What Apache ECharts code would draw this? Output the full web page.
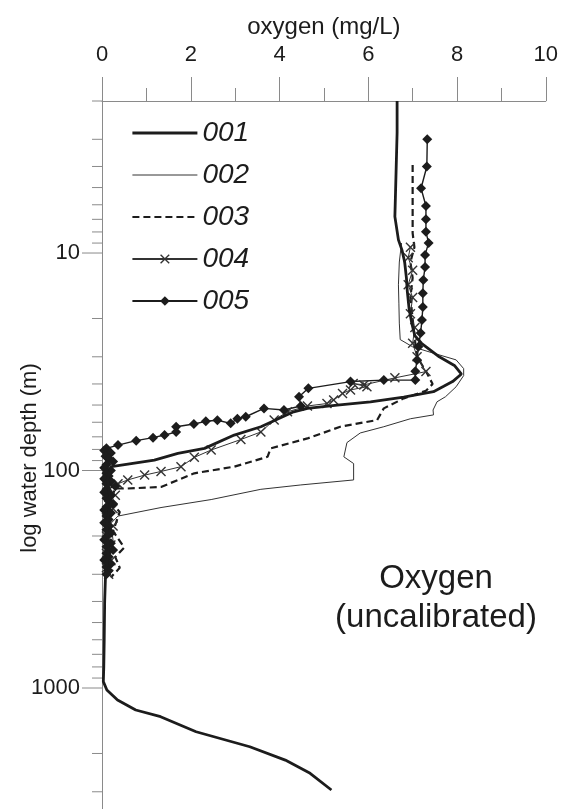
<!DOCTYPE html>
<html>
<head>
<meta charset="utf-8">
<script src="https://cdn.jsdelivr.net/npm/echarts@6/dist/echarts.min.js"></script>
<style>
html,body{margin:0;padding:0;background:#fff;}
#chart{width:561px;height:809px;}
</style>
</head>
<body>
<div id="chart"></div>
<script>
// Series names
const seriesNames = ['001', '002', '003', '004', '005'];

// [oxygen (mg/L), depth (m)]
const s001 = [[6.65,2.0],[6.65,2.8],[6.63,4.0],[6.61,5.7],[6.60,6.8],[6.68,8.7],[6.76,9.7],[6.82,11],[6.86,13],[6.88,15],[6.92,18],[6.98,21],[7.05,24],[7.2,26],[7.6,30],[7.95,33],[8.1,36],[7.9,39],[7.7,41],[7.47,43.4],[6.8,46],[6.05,48.3],[5.3,50],[4.63,51.8],[4.32,53.7],[3.58,62.9],[2.98,68.7],[2.31,79.1],[1.71,83.4],[1.18,89.5],[0.21,96],[0.12,110],[0.2,140],[0.1,180],[0.15,230],[0.08,300],[0.06,400],[0.05,600],[0.04,800],[0.03,935],[0.11,1021],[0.35,1135],[0.76,1262],[1.32,1355],[2.12,1589],[3.33,1862],[4.13,2145],[4.69,2468],[5.17,2944]];

const s002 = [[6.75,9],[6.7,11],[6.68,14],[6.69,17],[6.7,21],[6.72,25],[7.0,27],[7.5,29],[7.98,31],[8.15,34],[8.15,36.6],[7.98,41.2],[7.74,45.8],[7.55,48.3],[7.46,52.7],[7.47,55.5],[6.95,57.8],[6.35,62.9],[5.82,67.2],[5.52,74.4],[5.45,86.5],[5.67,92.9],[5.67,110.5],[4.48,116.5],[3.58,122],[2.46,136],[1.33,148],[0.36,162],[0.2,175],[0.25,210],[0.15,260],[0.1,300]];

const s003 = [[7.0,3.94],[7.0,5.7],[7.0,8.1],[7.04,9.4],[6.95,11],[7.0,13],[6.95,16],[7.0,20],[7.05,25],[7.1,30],[7.3,35],[7.45,40],[7.3,43],[6.8,46.6],[6.35,51.8],[6.2,58.6],[5.37,62.9],[4.63,71.2],[3.8,79.1],[3.73,86.5],[2.98,96],[2.08,103],[1.33,119],[0.58,121],[0.29,121],[0.2,140],[0.4,155],[0.25,190],[0.5,226],[0.3,250],[0.4,280],[0.2,310]];

const s004 = [[6.95,9.4],[6.9,10.5],[7.0,12],[6.9,14],[7.0,16],[6.95,19],[7.05,22],[7.0,26],[7.1,30],[7.3,35.1],[6.6,37.5],[5.9,40.4],[5.66,39.8],[5.97,41.2],[5.6,42.6],[5.42,44.2],[5.22,47.4],[5.07,49.2],[4.63,50.5],[4.18,53.7],[3.88,58.6],[3.58,66.5],[3.13,72],[2.46,80.5],[2.08,87],[1.78,96],[1.33,101],[0.96,105],[0.58,110.5],[0.36,115],[0.13,119],[0.3,130],[0.15,140],[0.25,150],[0.1,165],[0.25,180],[0.1,200],[0.2,220],[0.1,240],[0.2,260],[0.1,280],[0.15,300]];

const s005 = [[7.33,3.0],[7.32,4.0],[7.19,5.04],[7.30,6.08],[7.30,7.0],[7.30,7.98],[7.36,9.0],[7.28,10.2],[7.28,11.6],[7.24,13.3],[7.23,15.3],[7.23,17.7],[7.21,20.3],[7.18,23.3],[7.13,27],[7.1,31],[7.06,35],[7.06,38.4],[6.35,38.4],[5.6,39],[4.65,41.9],[4.44,45.8],[4.48,50.5],[4.1,52.7],[3.65,51.8],[3.24,56.6],[3.05,57.8],[2.9,60.7],[2.6,58.7],[2.34,59.4],[2.07,61.1],[1.67,62.9],[1.67,66.5],[1.41,68.7],[1.15,70.6],[0.77,72.9],[0.36,76.4],[0.1,79.1],[0.05,81],[0.2,83],[0.08,86],[0.15,88],[0.25,91],[0.1,94],[0.05,97],[0.2,100],[0.1,103],[0.15,106],[0.05,109],[0.2,112],[0.1,115],[0.3,118],[0.1,122],[0.05,126],[0.2,130],[0.1,134],[0.15,138],[0.25,142],[0.1,147],[0.05,152],[0.2,157],[0.1,162],[0.15,168],[0.05,174],[0.15,180],[0.1,187],[0.2,194],[0.1,201],[0.05,208],[0.2,216],[0.1,224],[0.25,232],[0.1,240],[0.15,249],[0.05,258],[0.2,268],[0.1,278],[0.15,289],[0.1,300]];

// Axis ticks
const xTickLabels = [0, 2, 4, 6, 8, 10];
const yMajorTicks = [10, 100, 1000];
const yMinorTicks = [2,3,4,5,6,7,8,9,20,30,40,50,60,70,80,90,200,300,400,500,600,700,800,900,2000,3000];

const FONT = '"Liberation Sans", Arial, sans-serif';
const INK = '#1c1c1c';
const AXIS = '#8a8a8a';

const xSymbol = 'path://M0,1 L1,0 L5,4 L9,0 L10,1 L6,5 L10,9 L9,10 L5,6 L1,10 L0,9 L4,5 Z';

const tickData = yMajorTicks.map(v => [0, v, 20]).concat(yMinorTicks.map(v => [0, v, 10]));

const chart = echarts.init(document.getElementById('chart'), null, {renderer: 'canvas'});
chart.setOption({
  animation: false,
  backgroundColor: '#fff',
  grid: {left: 102, right: 13, top: 101, bottom: 0, containLabel: false},
  legend: {
    data: [
      {name: '001', itemStyle: {opacity: 0}, lineStyle: {width: 2.8}},
      {name: '002', itemStyle: {opacity: 0}, lineStyle: {width: 1}},
      {name: '003', itemStyle: {opacity: 0}, lineStyle: {width: 2.2}},
      {name: '004'},
      {name: '005'}
    ],
    orient: 'vertical',
    left: 131,
    top: 118,
    padding: 0,
    itemWidth: 65,
    itemHeight: 12,
    itemGap: 12,
    textStyle: {fontFamily: FONT, fontStyle: 'italic', fontSize: 28, color: INK, lineHeight: 30}
  },
  xAxis: {
    type: 'value',
    position: 'top',
    min: 0, max: 10, interval: 2,
    name: 'oxygen (mg/L)',
    nameLocation: 'middle',
    nameGap: 62,
    nameTextStyle: {fontFamily: FONT, fontSize: 24, color: INK},
    axisLine: {show: true, lineStyle: {color: AXIS, width: 1}},
    axisTick: {show: true, inside: false, length: 24, lineStyle: {color: AXIS}},
    minorTick: {show: true, splitNumber: 2, length: 13, lineStyle: {color: AXIS}},
    splitLine: {show: false},
    axisLabel: {
      margin: 35, fontFamily: FONT, fontSize: 22, color: INK,
      formatter: v => (xTickLabels.indexOf(v) >= 0 ? String(v) : '')
    }
  },
  yAxis: {
    type: 'log',
    logBase: 10,
    inverse: true,
    min: 2, max: 3600,
    axisLine: {show: true, lineStyle: {color: AXIS, width: 1}},
    axisTick: {show: false},
    minorTick: {show: false},
    splitLine: {show: false},
    axisLabel: {
      margin: 22, fontFamily: FONT, fontSize: 22, color: INK,
      formatter: v => {
        for (const t of yMajorTicks) { if (Math.abs(v - t) < 1e-6 * t) return String(t); }
        return '';
      }
    }
  },
  series: [
    {
      name: '001', type: 'line', data: s001, symbol: 'none',
      lineStyle: {color: INK, width: 2.8}, itemStyle: {color: INK}, z: 5
    },
    {
      name: '002', type: 'line', data: s002, symbol: 'none',
      lineStyle: {color: '#333', width: 1}, itemStyle: {color: '#333'}, z: 4
    },
    {
      name: '003', type: 'line', data: s003, symbol: 'none',
      lineStyle: {color: INK, width: 2.2, type: [7, 4]}, itemStyle: {color: INK}, z: 4
    },
    {
      name: '004', type: 'line', data: s004, symbol: xSymbol, symbolSize: 10, showAllSymbol: true,
      lineStyle: {color: '#333', width: 1}, itemStyle: {color: '#333'}, z: 4
    },
    {
      name: '005', type: 'line', data: s005, symbol: 'diamond', symbolSize: 10, showAllSymbol: true,
      lineStyle: {color: INK, width: 1.4}, itemStyle: {color: INK}, z: 4
    },
    {
      type: 'custom',
      clip: false,
      silent: true,
      data: tickData,
      renderItem: function (params, api) {
        const p = api.coord([api.value(0), api.value(1)]);
        const len = api.value(2);
        return {
          type: 'line',
          shape: {x1: p[0] - len, y1: p[1], x2: p[0], y2: p[1]},
          style: {stroke: AXIS, lineWidth: 1}
        };
      },
      z: 1
    }
  ],
  graphic: [
    {
      type: 'text',
      x: 30, y: 458,
      rotation: Math.PI / 2,
      style: {
        text: 'log water depth (m)',
        fontFamily: FONT, fontSize: 22, fill: INK,
        align: 'center', verticalAlign: 'middle',
        textAlign: 'center', textVerticalAlign: 'middle'
      }
    },
    {
      type: 'text',
      x: 436, y: 559,
      style: {
        text: 'Oxygen\n(uncalibrated)',
        fontFamily: FONT, fontSize: 33, lineHeight: 39, fill: INK,
        align: 'center', verticalAlign: 'top',
        textAlign: 'center', textVerticalAlign: 'top'
      }
    }
  ]
});
</script>
</body>
</html>
